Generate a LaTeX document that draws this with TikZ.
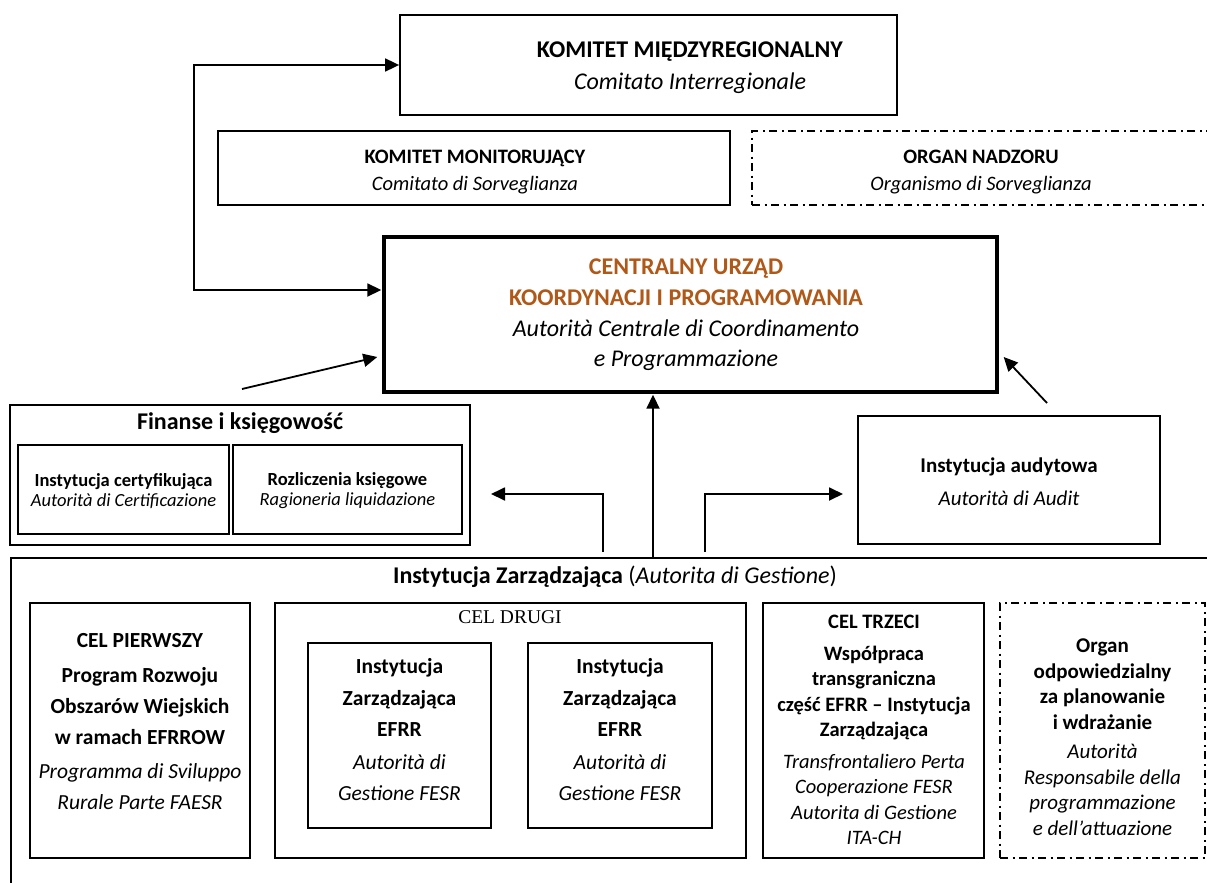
\documentclass[tikz,border=0pt]{standalone}
\usepackage{fontspec}
\setmainfont{Carlito}
\newfontfamily\celserif{Liberation Serif}
\usetikzlibrary{arrows.meta}
\definecolor{urzad}{RGB}{176,88,24}

\begin{document}
\begin{tikzpicture}[x=1pt,y=-1pt,
  box/.style={draw, line width=1.8pt, inner sep=0pt},
  thickbox/.style={draw, line width=3.4pt, inner sep=0pt},
  dashbox/.style={draw, line width=1.8pt, dash pattern=on 8pt off 4.5pt on 2pt off 4.5pt, inner sep=0pt},
  lbl/.style={align=center, inner sep=0pt},
  fs/.style 2 args={font=\fontsize{#1}{#2}\selectfont},
  arr/.style={line width=1.8pt, -{Triangle[length=14pt,width=13pt]}},
  darr/.style={line width=1.8pt, {Triangle[length=14pt,width=13pt]}-{Triangle[length=14pt,width=13pt]}},
]
\useasboundingbox (0,0) rectangle (1207,883);

% ---- upper committees ----
\node[box, minimum width=497pt, minimum height=100pt] (km) at (648.5,65) {};
\node[lbl, fs={24}{32}] (kmt) at (690,68) {\textbf{KOMITET MIĘDZYREGIONALNY}\\\textit{Comitato Interregionale}};

\node[box, minimum width=512pt, minimum height=74pt] (kmon) at (474,168) {};
\node[lbl, fs={20.5}{27}] (kmont) at (475,172) {\textbf{KOMITET MONITORUJĄCY}\\\textit{Comitato di Sorveglianza}};

\node[dashbox, minimum width=460pt, minimum height=74pt] (on) at (982,168) {};
\node[lbl, fs={20.5}{27}] (ont) at (981,172) {\textbf{ORGAN NADZORU}\\\textit{Organismo di Sorveglianza}};

% ---- central authority ----
\node[thickbox, minimum width=613pt, minimum height=155pt] (central) at (690.5,314.5) {};
\node[lbl, fs={24}{30.7}] (centralt) at (686,315) {\textcolor{urzad}{\textbf{CENTRALNY URZĄD}}\\\textcolor{urzad}{\textbf{KOORDYNACJI I PROGRAMOWANIA}}\\\textit{Autorità Centrale di Coordinamento}\\\textit{e Programmazione}};

% ---- finance ----
\node[box, minimum width=460pt, minimum height=140pt] (fin) at (240,475) {};
\node[lbl, fs={24}{26}] (fint) at (240,423) {\textbf{Finanse i księgowość}};
\node[box, minimum width=211pt, minimum height=89pt] (cert) at (123.5,489.5) {};
\node[lbl, fs={18.5}{20}] (certt) at (123.5,491) {\textbf{Instytucja certyfikująca}\\\textit{Autorità di Certificazione}};
\node[box, minimum width=229pt, minimum height=89pt] (rozl) at (347.5,489.5) {};
\node[lbl, fs={18.5}{20}] (rozlt) at (347.5,491) {\textbf{Rozliczenia księgowe}\\\textit{Ragioneria liquidazione}};

% ---- audit ----
\node[box, minimum width=302pt, minimum height=128pt] (aud) at (1009,480) {};
\node[lbl, fs={21}{33}] (audt) at (1009,482) {\textbf{Instytucja audytowa}\\\textit{Autorità di Audit}};

% ---- managing authority frame ----
\node[box, anchor=north west, minimum width=1220pt, minimum height=350pt] (iz) at (10,557) {};
\node[lbl, fs={24}{26}] (izt) at (615,577) {\textbf{Instytucja Zarządzająca} (\textit{Autorita di Gestione})};

\node[box, minimum width=220pt, minimum height=255pt] (c1) at (140,730.5) {};
\node[lbl, fs={21.5}{31}] (c1t) at (140,722) {\textbf{CEL PIERWSZY}\\[4pt]\textbf{Program Rozwoju}\\\textbf{Obszarów Wiejskich}\\\textbf{w ramach EFRROW}\\[3pt]\textit{Programma di Sviluppo}\\\textit{Rurale Parte FAESR}};

\node[box, minimum width=471pt, minimum height=255pt] (c2) at (510.5,730.5) {};
\node[lbl, font=\celserif\fontsize{19.5}{22}\selectfont] (c2t) at (510,617) {CEL DRUGI};
\node[box, minimum width=183pt, minimum height=185pt] (e1) at (399.5,735.5) {};
\node[lbl, fs={21.5}{31.5}] (e1t) at (399.5,730) {\textbf{Instytucja}\\\textbf{Zarządzająca}\\\textbf{EFRR}\\[1pt]\textit{Autorità di}\\\textit{Gestione FESR}};
\node[box, minimum width=184pt, minimum height=185pt] (e2) at (620,735.5) {};
\node[lbl, fs={21.5}{31.5}] (e2t) at (620,730) {\textbf{Instytucja}\\\textbf{Zarządzająca}\\\textbf{EFRR}\\[1pt]\textit{Autorità di}\\\textit{Gestione FESR}};

\node[box, minimum width=221pt, minimum height=255pt] (c3) at (873.5,730.5) {};
\node[lbl, fs={20.5}{25.5}] (c3t) at (874,730) {\textbf{CEL TRZECI}\\[6pt]\textbf{Współpraca}\\\textbf{transgraniczna}\\\textbf{część EFRR – Instytucja}\\\textbf{Zarządzająca}\\[6pt]\textit{Transfrontaliero Perta}\\\textit{Cooperazione FESR}\\\textit{Autorita di Gestione}\\\textit{ITA-CH}};

\node[dashbox, minimum width=205pt, minimum height=255pt] (org) at (1102.5,730.5) {};
\node[lbl, fs={21}{25.5}] (orgt) at (1102.5,737) {\textbf{Organ}\\\textbf{odpowiedzialny}\\\textbf{za planowanie}\\\textbf{i wdrażanie}\\[4pt]\textit{Autorità}\\\textit{Responsabile della}\\\textit{programmazione}\\\textit{e dell'attuazione}};

% ---- connectors ----
\coordinate (xL) at (603,0);
\coordinate (xC) at (653,0);
\coordinate (xR) at (705,0);
\coordinate (tipL) at (491,494);
\coordinate (tipR) at (843,494);
\coordinate (fromFin) at (242,389);
\coordinate (fromAud) at (1047,403);

\draw[darr] (km.west) -- ++(-205,0) |- ([yshift=24.5pt,xshift=-1pt]central.west);
\draw[arr] (fromFin) -- ([yshift=-42.5pt,xshift=-5pt]central.west);
\draw[arr] (fromAud) -- ([yshift=-42.5pt,xshift=5pt]central.east);
\draw[arr] (iz.north -| xC) -- ([yshift=-1pt]central.south -| xC);
\draw[arr] ([yshift=5pt]iz.north -| xL) |- (tipL);
\draw[arr] ([yshift=5pt]iz.north -| xR) |- (tipR);
\end{tikzpicture}
\end{document}
